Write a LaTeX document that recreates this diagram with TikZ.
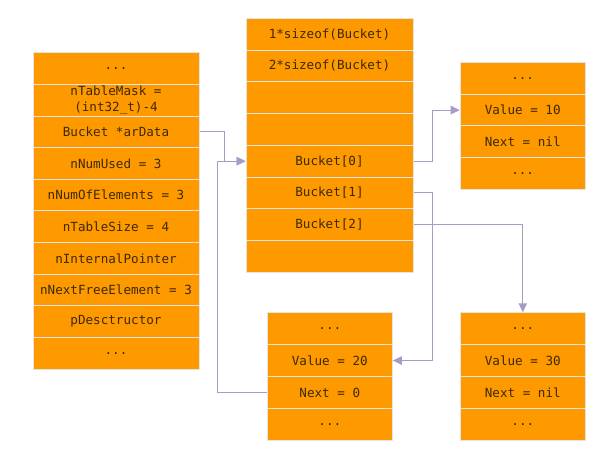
\documentclass[tikz,border=0pt]{standalone}
\usepackage{fontspec}
\newfontfamily\monofnt{DejaVu Sans Mono}
\usetikzlibrary{arrows.meta}
\definecolor{cellfill}{HTML}{FF9900}
\definecolor{cellline}{HTML}{E4E4E4}
\definecolor{linkc}{HTML}{A99AC8}
\definecolor{txtc}{HTML}{3C2A00}
\tikzset{
  cell/.style={draw=cellline, fill=cellfill, line width=1pt, rectangle, inner sep=0pt,
    text=txtc, align=center, font=\monofnt\fontsize{12.6}{15.5}\selectfont},
  wide/.style={cell, minimum width=166pt, minimum height=31.6pt},
  mid/.style={cell, minimum width=167pt, minimum height=31.75pt},
  small/.style={cell, minimum width=125pt, minimum height=31.8pt},
  link/.style={draw=linkc, line width=1pt, -{Triangle[length=9pt,width=8.5pt]}},
}
\begin{document}
\begin{tikzpicture}[x=1pt,y=-1pt]
\useasboundingbox (0,0) rectangle (613,465);
% left column
\foreach \i/\t in {1/{...},2/{nTableMask =\\(int32\_t)-4},3/{Bucket *arData},4/{nNumUsed = 3},5/{nNumOfElements = 3},6/{nTableSize = 4},7/{nInternalPointer},8/{nNextFreeElement = 3},9/{pDesctructor},10/{...}}
  \node[wide] (l\i) at (116, {53+(\i-0.5)*31.6}) {\t};
% middle column
\foreach \i/\t in {1/{1*sizeof(Bucket)},2/{2*sizeof(Bucket)},3/{},4/{},5/{Bucket[0]},6/{Bucket[1]},7/{Bucket[2]},8/{}}
  \node[mid] (m\i) at (329.5, {18.3+(\i-0.5)*31.75}) {\t};
% top right
\foreach \i/\t in {1/{...},2/{Value = 10},3/{Next = nil},4/{...}}
  \node[small] (a\i) at (522.7, {62.7+(\i-0.5)*31.6}) {\t};
% bottom middle
\foreach \i/\t in {1/{...},2/{Value = 20},3/{Next = 0},4/{...}}
  \node[small] (b\i) at (329.8, {312.7+(\i-0.5)*31.9}) {\t};
% bottom right
\foreach \i/\t in {1/{...},2/{Value = 30},3/{Next = nil},4/{...}}
  \node[small] (c\i) at (522.8, {312.7+(\i-0.5)*31.9}) {\t};
% connectors
\draw[link] (l3.east) -- ++(25,0) |- (m5.west);
\draw[link] (b3.west) -- ++(-49,0) |- (m5.west);
\draw[link] (m5.east) -- ++(19,0) |- (a2.west);
\draw[link] (m6.east) -- ++(19,0) |- (b2.east);
\draw[link] (m7.east) -| (c1.north);
\end{tikzpicture}
\end{document}
